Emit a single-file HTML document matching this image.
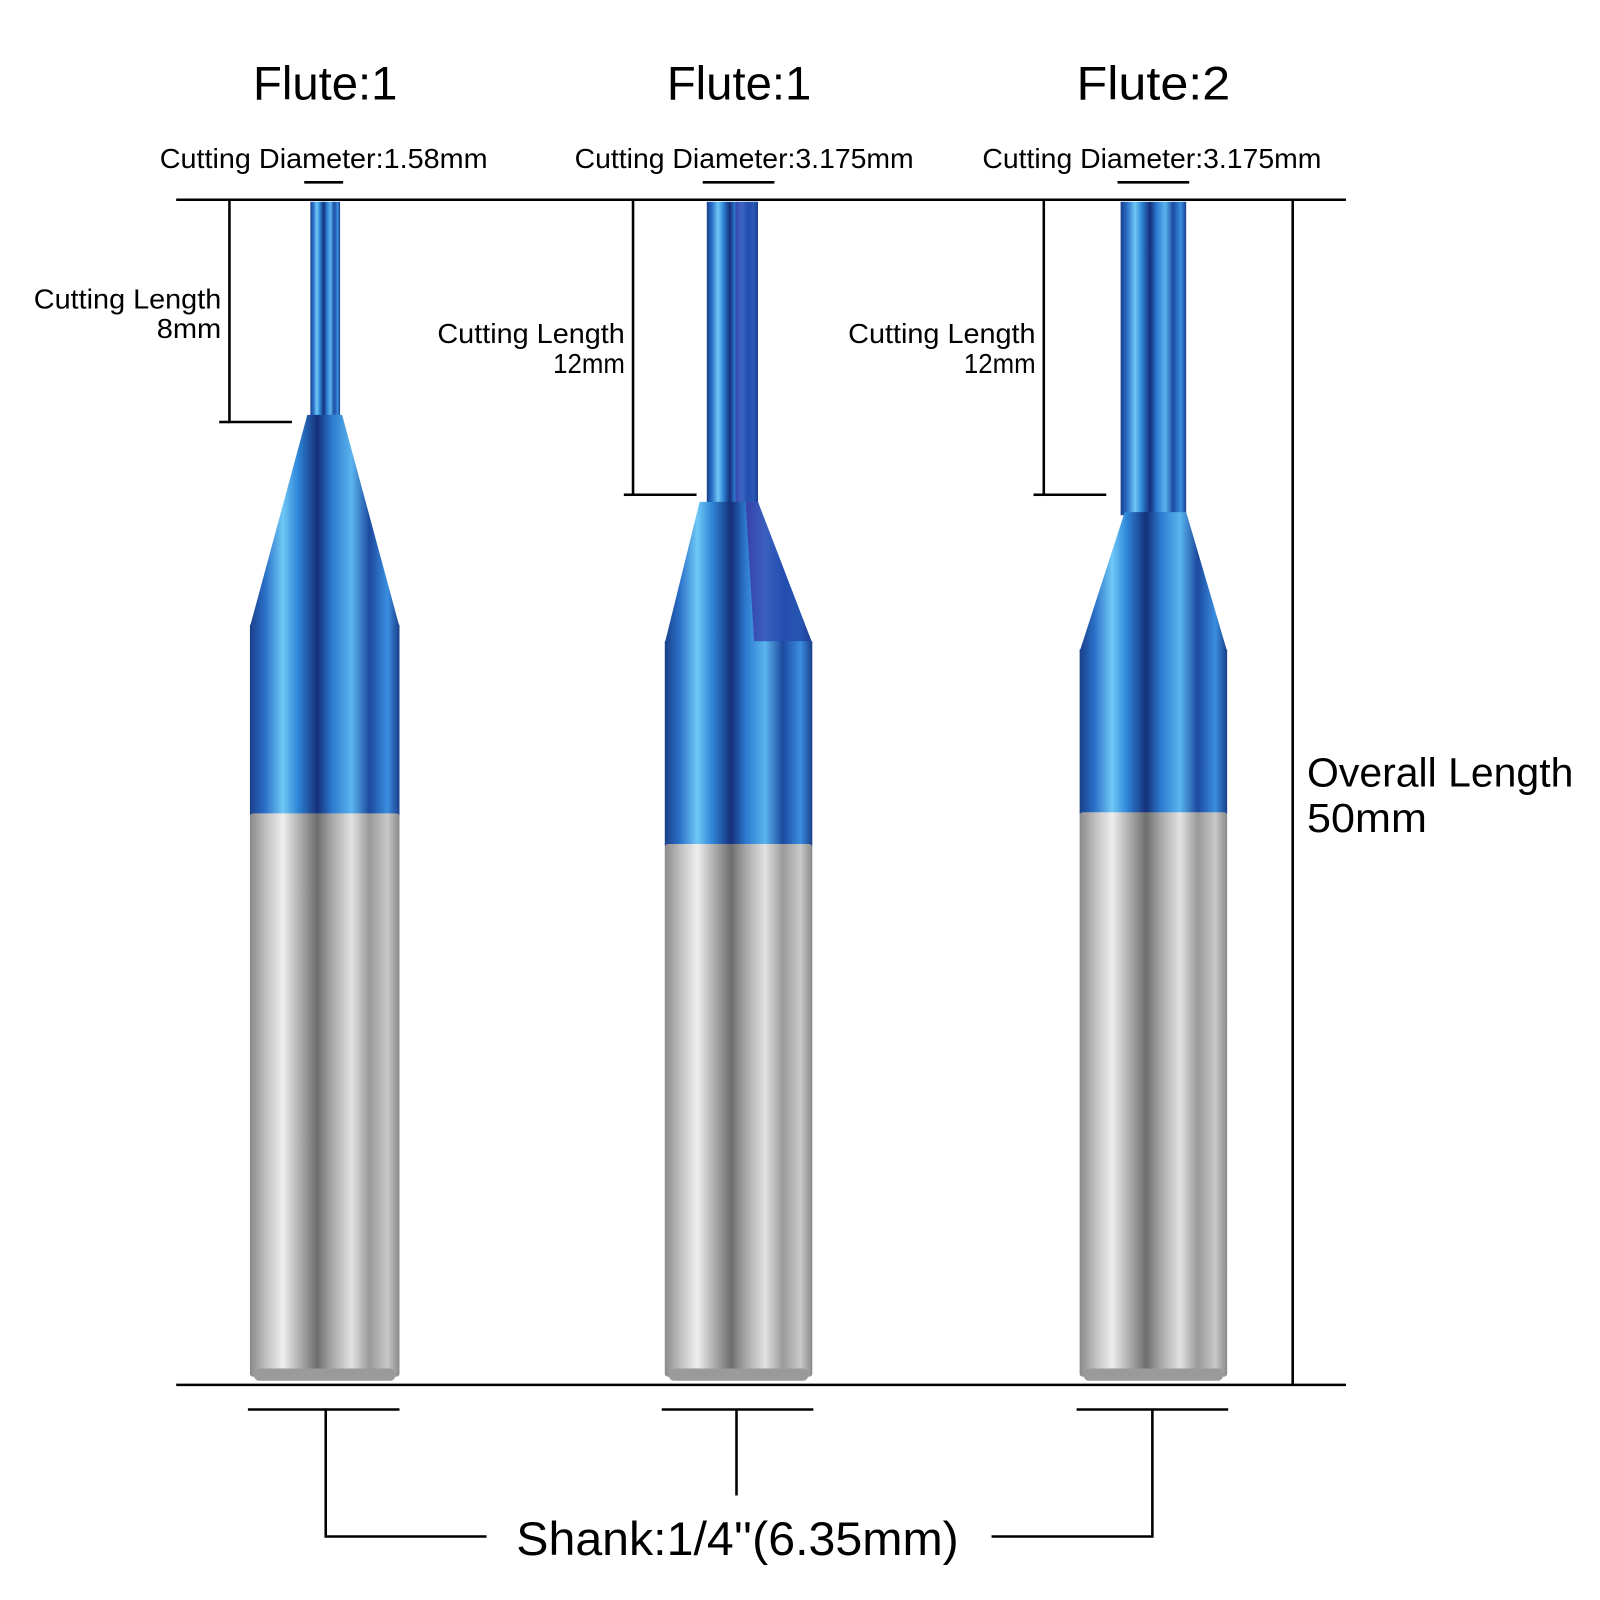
<!DOCTYPE html>
<html><head><meta charset="utf-8"><style>html,body{margin:0;padding:0;background:#fff}svg{display:block}</style></head>
<body>
<svg width="1600" height="1600" viewBox="0 0 1562 1562" xmlns="http://www.w3.org/2000/svg" font-family="'Liberation Sans Narrow','Liberation Sans',sans-serif">
<defs>
<linearGradient id="blue" x1="0" x2="1" y1="0" y2="0">
<stop offset="0" stop-color="#1a3f8a"/><stop offset="0.1" stop-color="#2a6fc8"/><stop offset="0.22" stop-color="#6fc8f5"/><stop offset="0.32" stop-color="#2f86d8"/><stop offset="0.45" stop-color="#15307a"/><stop offset="0.55" stop-color="#2c7ad0"/><stop offset="0.68" stop-color="#5ab4ee"/><stop offset="0.8" stop-color="#1c4aa0"/><stop offset="0.92" stop-color="#3a8ee0"/><stop offset="1" stop-color="#1a3f8a"/>
</linearGradient>
<linearGradient id="silver" x1="0" x2="1" y1="0" y2="0">
<stop offset="0" stop-color="#8a8a8a"/><stop offset="0.1" stop-color="#bdbdbd"/><stop offset="0.22" stop-color="#eeeeee"/><stop offset="0.33" stop-color="#b0b0b0"/><stop offset="0.45" stop-color="#6e6e6e"/><stop offset="0.55" stop-color="#a8a8a8"/><stop offset="0.68" stop-color="#e2e2e2"/><stop offset="0.8" stop-color="#9a9a9a"/><stop offset="0.92" stop-color="#c8c8c8"/><stop offset="1" stop-color="#8a8a8a"/>
</linearGradient>
<linearGradient id="purple" x1="0" x2="1" y1="0" y2="0">
<stop offset="0" stop-color="#3a2fa0"/><stop offset="0.5" stop-color="#2850b8"/><stop offset="1" stop-color="#1d3a96"/>
</linearGradient>
</defs>

<!-- Bit 1 -->
<rect x="303" y="197" width="29" height="210" fill="url(#blue)"/>
<polygon points="300,405 334,405 390,612 244,612" fill="url(#blue)"/>
<rect x="244" y="610" width="146" height="186" fill="url(#blue)"/>
<rect x="244" y="794" width="146" height="550" rx="3" fill="url(#silver)"/>
<rect x="248" y="1336" width="138" height="12" rx="5" fill="#9a9a9a"/>

<!-- Bit 2 -->
<rect x="690" y="197" width="50" height="295" fill="url(#blue)"/>
<rect x="718" y="197" width="22" height="295" fill="url(#purple)" opacity="0.7"/>
<polygon points="683,490 740,490 793,628 649,628" fill="url(#blue)"/>
<polygon points="728,490 740,490 793,628 780,690 740,690" fill="url(#purple)" opacity="0.75"/>
<rect x="649" y="626" width="144" height="200" fill="url(#blue)"/>
<rect x="649" y="824" width="144" height="520" rx="3" fill="url(#silver)"/>
<rect x="653" y="1336" width="136" height="12" rx="5" fill="#9a9a9a"/>

<!-- Bit 3 -->
<rect x="1094" y="197" width="64" height="306" fill="url(#blue)"/>
<polygon points="1098,500 1158,500 1198,636 1054,636" fill="url(#blue)"/>
<rect x="1054" y="634" width="144" height="161" fill="url(#blue)"/>
<rect x="1054" y="793" width="144" height="551" rx="3" fill="url(#silver)"/>
<rect x="1058" y="1336" width="136" height="12" rx="5" fill="#9a9a9a"/>

<!-- lines -->
<g stroke="#000" stroke-width="2.5" fill="none">
<line x1="172" y1="195" x2="1314" y2="195"/>
<line x1="172" y1="1352" x2="1314" y2="1352"/>
<line x1="1262" y1="195" x2="1262" y2="1352"/>
<polyline points="224,195 224,412 285,412"/>
<line x1="214" y1="412" x2="224" y2="412"/>
<polyline points="618,195 618,483 680,483"/>
<line x1="609" y1="483" x2="618" y2="483"/>
<polyline points="1019,195 1019,483 1080,483"/>
<line x1="1009" y1="483" x2="1019" y2="483"/>
<line x1="297" y1="178" x2="335" y2="178"/>
<line x1="686" y1="178" x2="756" y2="178"/>
<line x1="1091" y1="178" x2="1161" y2="178"/>
<line x1="242" y1="1376" x2="390" y2="1376"/>
<line x1="646" y1="1376" x2="794" y2="1376"/>
<line x1="1051" y1="1376" x2="1199" y2="1376"/>
<polyline points="318,1376 318,1500 475,1500"/>
<line x1="719" y1="1376" x2="719" y2="1460"/>
<polyline points="1125,1376 1125,1500 968,1500"/>
</g>

<!-- text -->
<g fill="#000">
<text x="247" y="97" font-size="46" textLength="141" lengthAdjust="spacingAndGlyphs">Flute:1</text>
<text x="651" y="97" font-size="46" textLength="141" lengthAdjust="spacingAndGlyphs">Flute:1</text>
<text x="1051" y="97" font-size="46" textLength="150" lengthAdjust="spacingAndGlyphs">Flute:2</text>
<text x="156" y="164" font-size="27" textLength="320" lengthAdjust="spacingAndGlyphs">Cutting Diameter:1.58mm</text>
<text x="561" y="164" font-size="27" textLength="331" lengthAdjust="spacingAndGlyphs">Cutting Diameter:3.175mm</text>
<text x="959" y="164" font-size="27" textLength="331" lengthAdjust="spacingAndGlyphs">Cutting Diameter:3.175mm</text>
<text x="33" y="301" font-size="27" textLength="183" lengthAdjust="spacingAndGlyphs">Cutting Length</text>
<text x="153" y="330" font-size="27" textLength="63" lengthAdjust="spacingAndGlyphs">8mm</text>
<text x="427" y="335" font-size="27" textLength="183" lengthAdjust="spacingAndGlyphs">Cutting Length</text>
<text x="540" y="364" font-size="27" textLength="70" lengthAdjust="spacingAndGlyphs">12mm</text>
<text x="828" y="335" font-size="27" textLength="183" lengthAdjust="spacingAndGlyphs">Cutting Length</text>
<text x="941" y="364" font-size="27" textLength="70" lengthAdjust="spacingAndGlyphs">12mm</text>
<text x="1276" y="768" font-size="40" textLength="260" lengthAdjust="spacingAndGlyphs">Overall Length</text>
<text x="1276" y="812" font-size="40" textLength="117" lengthAdjust="spacingAndGlyphs">50mm</text>
<text x="504" y="1518" font-size="46" textLength="432" lengthAdjust="spacingAndGlyphs">Shank:1/4''(6.35mm)</text>
</g>
</svg>
</body></html>
